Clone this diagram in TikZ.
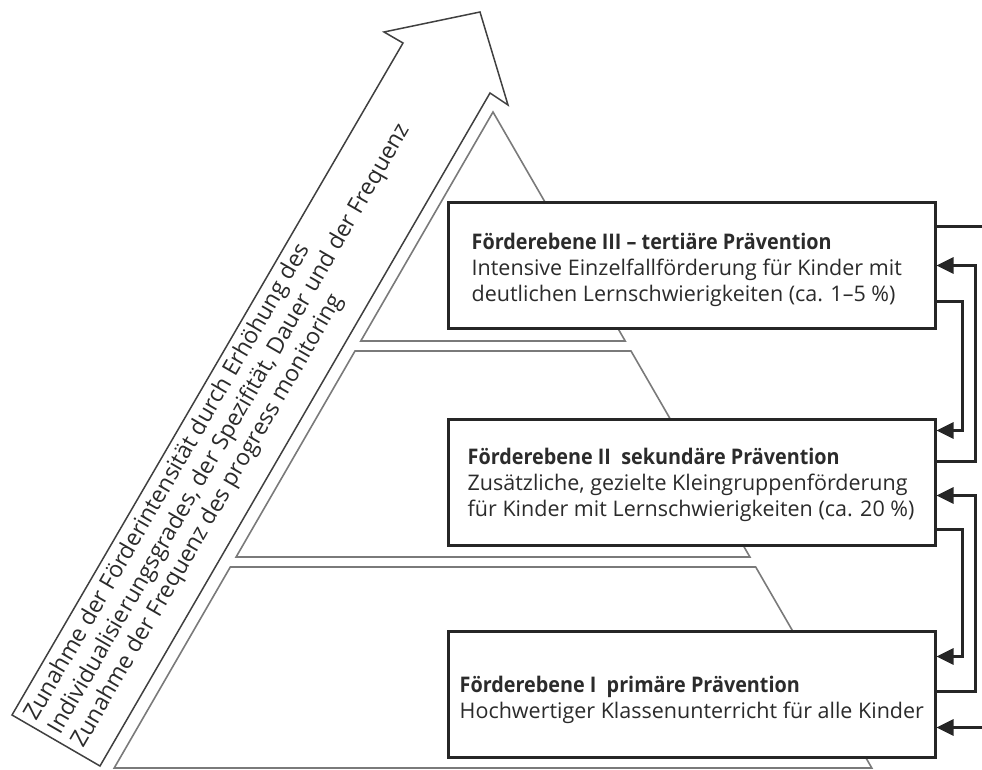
\documentclass[tikz,border=0pt]{standalone}
\usepackage{fontspec}
\setmainfont{Open Sans}[BoldFeatures={FakeStretch=0.92}]
\usetikzlibrary{arrows.meta,calc}
\definecolor{boxline}{HTML}{262626}
\definecolor{txt}{HTML}{2B2B2B}
\definecolor{pyr}{HTML}{7A7A7A}
\definecolor{arr}{HTML}{404040}
\begin{document}
\begin{tikzpicture}[x=1pt,y=-1pt,
  tier/.style={draw=pyr,line width=1.6pt,line join=miter},
  bigarrow/.style={draw=arr,line width=1.5pt,line join=miter,fill=white},
  box/.style={draw=boxline,line width=3pt,fill=white,minimum width=487pt,minimum height=126pt,inner sep=0pt,outer sep=1.5pt},
  boxtext/.style={align=left,inner sep=0pt,anchor=west,text=txt,font=\fontsize{21.5}{26}\selectfont},
  arrowtext/.style={align=left,inner sep=0pt,text=txt,font=\fontsize{23}{27}\selectfont},
  conn/.style={draw=boxline,line width=3pt},
  conna/.style={conn,-{Triangle[length=17pt,width=16pt]}}]
\useasboundingbox (0,0) rectangle (982,770);
% pyramid tiers
\draw[tier] (493,112) -- (625.2,341) -- (360.8,341) -- cycle;
\draw[tier] (355,351) -- (631,351) -- (749.9,557) -- (236.1,557) -- cycle;
\draw[tier] (230.3,567) -- (755.7,567) -- (871.8,768) -- (114.2,768) -- cycle;
% big arrow
\draw[bigarrow] (12,715) -- (403,43) -- (384,32) -- (480,12) -- (508,105) -- (490,93) -- (100,766) -- cycle;
\node[arrowtext,rotate=60,anchor=west] (atext) at (55,732.5)
  {Zunahme der Förderintensität durch Erhöhung des\\Individualisierungsgrades, der Spezifität, Dauer und der Frequenz\\Zunahme der Frequenz des progress monitoring};
% boxes
\node[box] (b3) at (691.5,265.5) {};
\node[box] (b2) at (691.5,482) {};
\node[box] (b1) at (691.5,694) {};
\node[boxtext] (t3) at ($(b3.west)+(25,4)$)
  {\textbf{Förderebene III – tertiäre Prävention}\\Intensive Einzelfallförderung für Kinder mit\\deutlichen Lernschwierigkeiten (ca. 1–5 \%)};
\node[boxtext] (t2) at ($(b2.west)+(21,3)$)
  {\textbf{Förderebene II\ \ sekundäre Prävention}\\Zusätzliche, gezielte Kleingruppenförderung\\für Kinder mit Lernschwierigkeiten (ca. 20 \%)};
\node[boxtext] (t1) at ($(b1.west)+(13,6)$)
  {\textbf{Förderebene I\ \ primäre Prävention}\\Hochwertiger Klassenunterricht für alle Kinder};
% connectors
\coordinate (eA) at ($(b3.north east)+(47,25)$);
\coordinate (eB) at ($(b1.north east)+(47,98)$);
\draw[conn] ($(b3.north east)+(0,25)$) -- (eA);
\draw[conna] ($(b3.north east)+(0,100)$) -- ++(26,0) |- ($(b2.north east)+(0,13)$);
\draw[conna] ($(b2.north east)+(0,44)$) -- ++(39,0) |- (b3.east);
\draw[conna] ($(b2.north east)+(0,112)$) -- ++(26,0) |- ($(b1.north east)+(0,27)$);
\draw[conna] ($(b1.north east)+(0,62)$) -- ++(39,0) |- ($(b2.north east)+(0,78)$);
\draw[conna] (eB) -- ($(b1.north east)+(0,98)$);
\end{tikzpicture}
\end{document}
